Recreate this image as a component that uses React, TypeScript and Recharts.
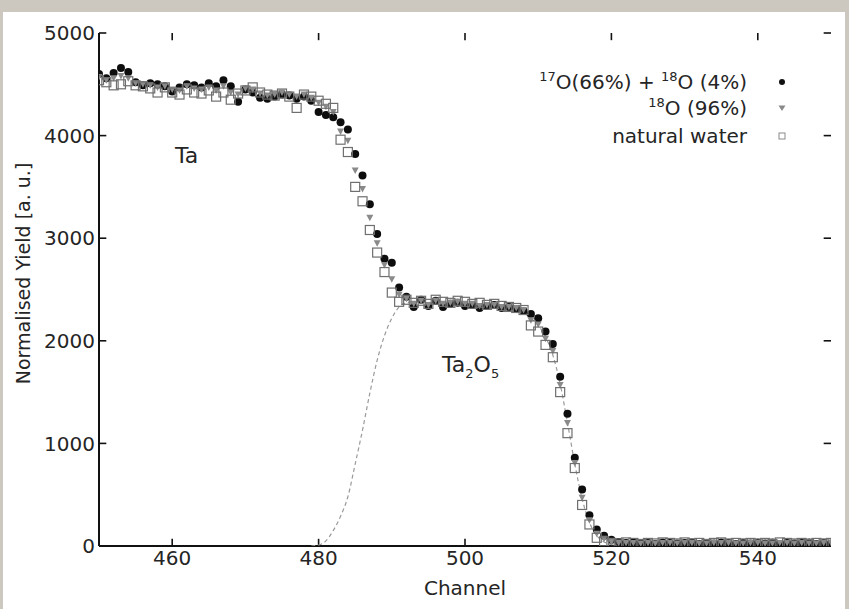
import React from "react";
import { ComposedChart, Scatter, XAxis, YAxis, ReferenceLine } from "recharts";

// channel numbers 450..550, one point per channel
const firstChannel = 450;

// 17O(66%) + 18O(4%) -- black dots
const o17Yield = [
  4600, 4560, 4610, 4660, 4620, 4520, 4490, 4510, 4500, 4480,
  4430, 4470, 4500, 4490, 4470, 4510, 4480, 4540, 4480, 4330,
  4450, 4420, 4370, 4360, 4380, 4400, 4390, 4360, 4380, 4340,
  4230, 4200, 4180, 4130, 4060, 3820, 3610, 3330, 3040, 2800,
  2760, 2520, 2430, 2330, 2400, 2340, 2390, 2330, 2360, 2370,
  2340, 2350, 2320, 2340, 2350, 2320, 2330, 2310, 2290, 2260,
  2220, 2090, 1970, 1650, 1290, 860, 550, 300, 160, 100,
  60, 40, 30, 35, 25, 30, 20, 35, 30, 25,
  30, 35, 20, 30, 25, 35, 30, 20, 30, 25,
  30, 25, 35, 20, 30, 25, 30, 35, 20, 30,
  25,
];

// 18O (96%) -- grey triangles
const o18Yield = [
  4570, 4540, 4560, 4580, 4560, 4510, 4500, 4490, 4470, 4480,
  4450, 4440, 4480, 4460, 4450, 4470, 4440, 4480, 4420, 4400,
  4460, 4450, 4410, 4390, 4400, 4420, 4400, 4380, 4400, 4370,
  4320, 4280, 4230, 4040, 3950, 3660, 3480, 3200, 2950, 2740,
  2600, 2450, 2410, 2360, 2390, 2350, 2390, 2360, 2370, 2380,
  2360, 2360, 2340, 2350, 2350, 2330, 2330, 2320, 2300, 2200,
  2160, 2020, 1900, 1570, 1200, 810, 470, 250, 120, 70,
  40, 30, 30, 30, 25, 30, 25, 30, 30, 25,
  30, 30, 25, 25, 30, 30, 30, 25, 25, 30,
  30, 25, 25, 30, 30, 25, 30, 25, 25, 30,
  30,
];

// natural water -- open squares
const naturalYield = [
  4540, 4520, 4490, 4500, 4530, 4490, 4480, 4460, 4420, 4470,
  4420, 4400, 4450, 4420, 4410, 4440, 4380, 4420, 4350, 4410,
  4440, 4470, 4420, 4400, 4390, 4410, 4380, 4270, 4400, 4380,
  4340, 4310, 4270, 3960, 3840, 3500, 3360, 3080, 2860, 2670,
  2470, 2380, 2400, 2370, 2390, 2360, 2400, 2380, 2370, 2390,
  2380, 2360, 2370, 2350, 2360, 2340, 2330, 2320, 2300, 2150,
  2090, 1960, 1840, 1500, 1100, 760, 400, 210, 80, 45,
  30, 25, 35, 30, 20, 30, 25, 35, 30, 25,
  35, 25, 30, 20, 30, 35, 25, 30, 25, 30,
  25, 30, 20, 35, 30, 25, 30, 20, 30, 25,
  30,
];

// dashed Ta2O5 layer curve
const fitChannel = [
  479, 480, 481, 482, 483, 484, 485, 486, 487, 488, 489, 490, 491, 492, 493,
  494, 495, 496, 497, 498, 499, 500, 501, 502, 503, 504, 505, 506, 507, 508,
  509, 510, 511, 512, 513, 514, 515, 516, 517, 518, 519, 520, 521, 522,
];
const fitYield = [
  0, 10, 50, 150, 290, 480, 800, 1130, 1490, 1810, 2050, 2220, 2330, 2370, 2380,
  2380, 2375, 2370, 2370, 2365, 2360, 2355, 2350, 2345, 2340, 2335, 2330, 2320, 2300, 2270,
  2220, 2150, 2040, 1860, 1580, 1200, 800, 460, 230, 100, 40, 15, 5, 0,
];

const xTicks = [460, 480, 500, 520, 540];
const yTicks = [0, 1000, 2000, 3000, 4000, 5000];
const X_MIN = 450;
const X_MAX = 550;
const Y_MIN = 0;
const Y_MAX = 5000;
// inward tick mark length, in data units
const X_TICK_LEN = 70;
const Y_TICK_LEN = 1;

const toPoints = (vals: number[]) =>
  vals.map((v, i) => ({ channel: firstChannel + i, y: v }));

const o17Data = toPoints(o17Yield);
const o18Data = toPoints(o18Yield);
const naturalData = toPoints(naturalYield);
const fitData = fitChannel.map((c, i) => ({ channel: c, y: fitYield[i] }));

const FONT = "'DejaVu Sans', 'Liberation Sans', Arial, sans-serif";
const TEXT = "#252525";
const FRAME = { stroke: "#111", strokeWidth: 2 };

const DotShape = (p: any) => <circle cx={p.cx} cy={p.cy} r={4} fill="#0d0d0d" />;
const TriShape = (p: any) => (
  <path
    d={`M${p.cx - 3.5},${p.cy - 3} L${p.cx + 3.5},${p.cy - 3} L${p.cx},${p.cy + 3.5} Z`}
    fill="#8a8a8a"
  />
);
const SquareShape = (p: any) => (
  <rect
    x={p.cx - 4.5}
    y={p.cy - 4.5}
    width={9}
    height={9}
    fill="none"
    stroke="#6f6f6f"
    strokeWidth={1.2}
  />
);
const NoShape = () => <g />;

const tickStyle = { fontSize: 20, fill: TEXT, fontFamily: FONT };
const sup: React.CSSProperties = { fontSize: 13, position: "relative", top: -8 };
const sub: React.CSSProperties = { fontSize: 13, position: "relative", top: 6 };

function LegendRow({ top, children, symbol }: { top: number; children: React.ReactNode; symbol: React.ReactNode }) {
  return (
    <>
      <div
        style={{
          position: "absolute",
          right: 102,
          top: top - 13,
          lineHeight: "26px",
          fontSize: 20,
          whiteSpace: "nowrap",
          color: TEXT,
          fontFamily: FONT,
        }}
      >
        {children}
      </div>
      <svg style={{ position: "absolute", left: 774, top: top - 8 }} width={16} height={16}>
        {symbol}
      </svg>
    </>
  );
}

const tickMark = (key: string, a: { x: number; y: number }, b: { x: number; y: number }) => (
  <ReferenceLine
    key={key}
    xAxisId="bottom"
    yAxisId="left"
    segment={[a, b]}
    stroke="#111"
    strokeWidth={1.6}
  />
);

export default function App() {
  return (
    <div
      style={{
        position: "absolute",
        left: 0,
        top: 0,
        width: 849,
        height: 609,
        background: "#cdc8bf",
        overflow: "hidden",
      }}
    >
      <div
        style={{
          position: "absolute",
          left: 3,
          top: 12,
          right: 4,
          bottom: 0,
          background: "#ffffff",
        }}
      />
      <div style={{ position: "absolute", left: 0, top: 0 }}>
        <ComposedChart
          width={849}
          height={609}
          margin={{ top: 33, right: 18, bottom: 0, left: 0 }}
        >
          <XAxis
            xAxisId="bottom"
            dataKey="channel"
            type="number"
            domain={[X_MIN, X_MAX]}
            ticks={xTicks}
            allowDataOverflow
            height={63}
            tickLine={false}
            tickSize={0}
            tickMargin={5}
            tick={tickStyle}
            axisLine={FRAME}
            label={{
              value: "Channel",
              position: "center",
              dy: 10,
              style: { fontSize: 20, fill: TEXT, fontFamily: FONT },
            }}
          />
          <XAxis
            xAxisId="top"
            orientation="top"
            dataKey="channel"
            type="number"
            domain={[X_MIN, X_MAX]}
            allowDataOverflow
            height={0}
            tick={false}
            tickLine={false}
            axisLine={FRAME}
          />
          <YAxis
            yAxisId="left"
            type="number"
            domain={[Y_MIN, Y_MAX]}
            ticks={yTicks}
            allowDataOverflow
            width={99}
            tickLine={false}
            tickSize={0}
            tickMargin={4}
            tick={tickStyle}
            axisLine={FRAME}
            label={{
              value: "Normalised Yield [a. u.]",
              angle: -90,
              position: "center",
              dx: -26,
              dy: -16,
              style: { fontSize: 19, fill: TEXT, fontFamily: FONT, textAnchor: "middle" },
            }}
          />
          <YAxis
            yAxisId="right"
            orientation="right"
            type="number"
            domain={[Y_MIN, Y_MAX]}
            allowDataOverflow
            width={0}
            tick={false}
            tickLine={false}
            axisLine={FRAME}
          />

          {/* inward tick marks on all four sides */}
          {xTicks.map((t) => tickMark(`xb${t}`, { x: t, y: Y_MIN }, { x: t, y: Y_MIN + X_TICK_LEN }))}
          {xTicks.map((t) => tickMark(`xt${t}`, { x: t, y: Y_MAX }, { x: t, y: Y_MAX - X_TICK_LEN }))}
          {yTicks.map((t) => tickMark(`yl${t}`, { x: X_MIN, y: t }, { x: X_MIN + Y_TICK_LEN, y: t }))}
          {yTicks.map((t) => tickMark(`yr${t}`, { x: X_MAX, y: t }, { x: X_MAX - Y_TICK_LEN, y: t }))}

          <Scatter
            xAxisId="bottom"
            yAxisId="left"
            data={fitData}
            dataKey="y"
            line={{ stroke: "#9a9a9a", strokeWidth: 1.2, strokeDasharray: "4 3" }}
            lineJointType="monotoneX"
            shape={NoShape}
            isAnimationActive={false}
          />
          <Scatter
            xAxisId="bottom"
            yAxisId="left"
            data={o17Data}
            dataKey="y"
            shape={DotShape}
            isAnimationActive={false}
          />
          <Scatter
            xAxisId="bottom"
            yAxisId="left"
            data={o18Data}
            dataKey="y"
            shape={TriShape}
            isAnimationActive={false}
          />
          <Scatter
            xAxisId="bottom"
            yAxisId="left"
            data={naturalData}
            dataKey="y"
            shape={SquareShape}
            isAnimationActive={false}
          />
        </ComposedChart>
      </div>

      <LegendRow top={82} symbol={<circle cx={8} cy={8} r={3} fill="#111" />}>
        <span style={sup}>17</span>O(66%) + <span style={sup}>18</span>O (4%)
      </LegendRow>
      <LegendRow top={108} symbol={<path d="M4.5,5.5 L11.5,5.5 L8,11 Z" fill="#8a8a8a" />}>
        <span style={sup}>18</span>O (96%)
      </LegendRow>
      <LegendRow
        top={136}
        symbol={<rect x={5} y={5} width={6} height={6} fill="none" stroke="#8a8a8a" strokeWidth={1} />}
      >
        natural water
      </LegendRow>

      <div
        style={{
          position: "absolute",
          left: 175,
          top: 143,
          fontSize: 22,
          color: TEXT,
          fontFamily: FONT,
        }}
      >
        Ta
      </div>
      <div
        style={{
          position: "absolute",
          left: 442,
          top: 352,
          fontSize: 22,
          color: TEXT,
          fontFamily: FONT,
          whiteSpace: "nowrap",
        }}
      >
        Ta<span style={sub}>2</span>O<span style={sub}>5</span>
      </div>
    </div>
  );
}
